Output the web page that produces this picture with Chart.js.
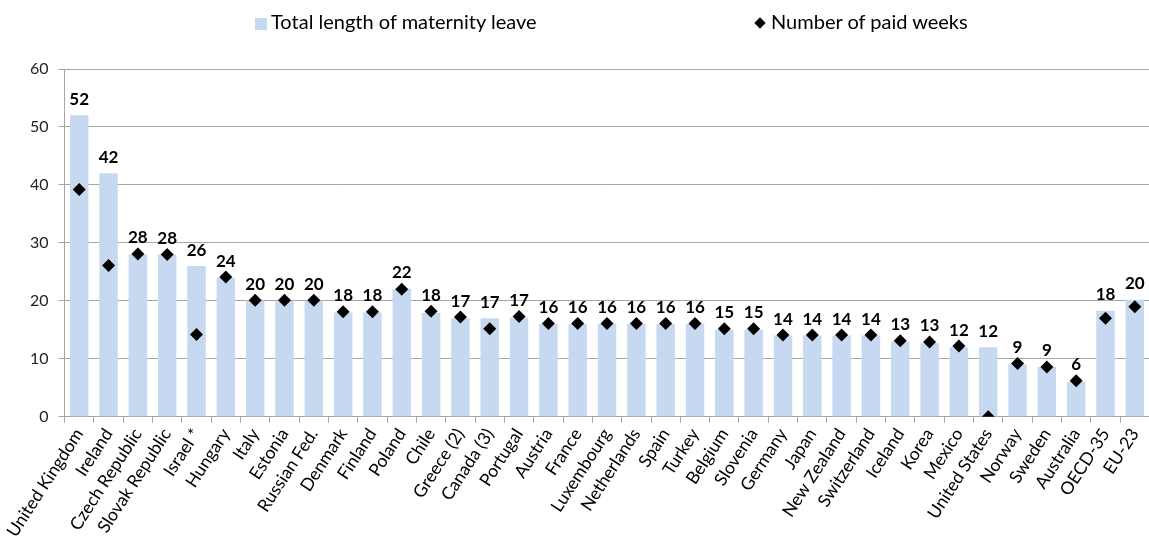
<!DOCTYPE html>
<html>
<head>
<meta charset="utf-8">
<script src="https://cdn.jsdelivr.net/npm/chart.js@4/dist/chart.umd.min.js"></script>
<style>
  html, body { margin: 0; padding: 0; background: #fff; overflow: hidden; }
  #wrap { position: relative; width: 1156px; height: 550px; }
  #legend { position: absolute; top: 10px; left: 0; width: 1149px; height: 24px;
            font-family: Lato, "Noto Sans", sans-serif; font-size: 20px; color: #000; }
  .item { position: absolute; top: 0; line-height: 22px; white-space: nowrap; }
  .sq { display: inline-block; width: 12px; height: 12px; background: #c6d9f1; margin-right: 4px; vertical-align: -1px; }
  .dm { display: inline-block; width: 8px; height: 8px; background: #000; transform: rotate(45deg); margin: 0 7px 0 3px; vertical-align: 2px; }
</style>
</head>
<body>
<div id="wrap">
  <div id="legend">
    <div class="item" style="left:255px"><span class="sq"></span>Total length of maternity leave</div>
    <div class="item" style="left:753px"><span class="dm"></span>Number of paid weeks</div>
  </div>
  <canvas id="c" width="1156" height="550"></canvas>
</div>
<script>
// pays / agrégats
const countries = ['United Kingdom', 'Ireland', 'Czech Republic', 'Slovak Republic', 'Israel *', 'Hungary', 'Italy',
  'Estonia', 'Russian Fed.', 'Denmark', 'Finland', 'Poland', 'Chile', 'Greece (2)', 'Canada (3)', 'Portugal',
  'Austria', 'France', 'Luxembourg', 'Netherlands', 'Spain', 'Turkey', 'Belgium', 'Slovenia', 'Germany', 'Japan',
  'New Zealand', 'Switzerland', 'Iceland', 'Korea', 'Mexico', 'United States', 'Norway', 'Sweden', 'Australia',
  'OECD-35', 'EU-23'];

// total length of maternity leave (weeks)
const totalLeave = [52, 42, 28, 28, 26, 24, 20, 20, 20, 18, 18, 22.1, 17.9, 17, 17, 17.1, 16, 16, 16, 16, 16, 16,
  15, 15, 14, 14, 14, 14, 13, 12.7, 12, 12, 9, 8.6, 6, 18.3, 20.2];

// number of paid weeks
const paidWeeks = [39.2, 26.1, 28.1, 28, 14.2, 24.1, 20.1, 20.1, 20.1, 18.1, 18.1, 22, 18.2, 17.2, 15.2, 17.3, 16.1,
  16.1, 16.1, 16.1, 16.1, 16.1, 15.2, 15.2, 14.1, 14.1, 14.1, 14.1, 13.1, 12.9, 12.2, 0, 9.2, 8.6, 6.2, 17, 19];

const yTicks = [0, 10, 20, 30, 40, 50, 60];

const FONT = 'Lato, "Noto Sans", sans-serif';

// etiquetas en negrita encima de cada columna
const labelPlugin = {
  id: 'topLabels',
  afterDatasetsDraw(chart) {
    const ctx = chart.ctx;
    const y = chart.scales.y;
    const x = chart.scales.x;
    ctx.save();
    ctx.font = 'bold 17px ' + FONT;
    ctx.fillStyle = '#000';
    ctx.textAlign = 'center';
    ctx.textBaseline = 'middle';
    totalLeave.forEach((v, i) => {
      const top = Math.max(v, paidWeeks[i]);
      ctx.fillText(String(Math.round(v)), x.getPixelForValue(i), y.getPixelForValue(top) - 16);
    });
    ctx.restore();
  }
};

new Chart(document.getElementById('c'), {
  data: {
    labels: countries,
    datasets: [
      {
        type: 'scatter',
        label: 'Number of paid weeks',
        data: paidWeeks.map((v, i) => ({ x: i, y: v })),
        pointStyle: 'rectRot',
        pointRadius: 6.5,
        backgroundColor: '#000',
        borderColor: '#000',
        borderWidth: 0,
        order: 0
      },
      {
        type: 'bar',
        label: 'Total length of maternity leave',
        data: totalLeave,
        backgroundColor: '#c6d9f1',
        barPercentage: 0.63,
        categoryPercentage: 1,
        order: 1
      }
    ]
  },
  options: {
    responsive: false,
    animation: false,
    layout: { padding: { top: 69, left: 20, right: 1, bottom: 7 } },
    plugins: {
      legend: { display: false },
      tooltip: { enabled: false }
    },
    scales: {
      x: {
        type: 'category',
        offset: true,
        grid: { offset: true, drawOnChartArea: false, color: '#a6a6a6', tickLength: 6 },
        border: { color: '#a6a6a6' },
        ticks: {
          minRotation: 57, maxRotation: 57, autoSkip: false, padding: 2,
          color: '#000', font: { family: FONT, size: 17.5 }
        }
      },
      y: {
        min: 0, max: 60,
        afterBuildTicks(axis) { axis.ticks = yTicks.map(v => ({ value: v })); },
        grid: { color: '#a6a6a6', tickLength: 6 },
        border: { color: '#a6a6a6' },
        ticks: { color: '#222', padding: 10, font: { family: FONT, size: 16 } }
      }
    }
  },
  plugins: [labelPlugin]
});
</script>
</body>
</html>
